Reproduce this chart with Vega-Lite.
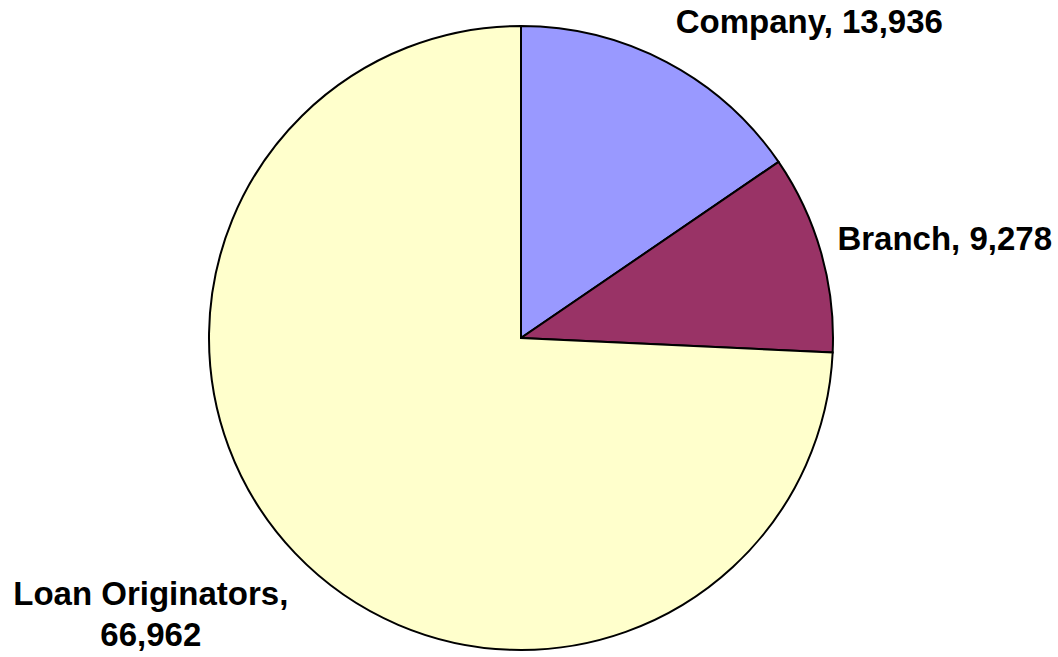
{
  "$schema": "https://vega.github.io/schema/vega-lite/v6.json",
  "width": 1042,
  "height": 638,
  "autosize": "none",
  "padding": {"left": 0, "right": 16, "top": 19, "bottom": 0},
  "background": "white",
  "view": {"stroke": null},
  "data": {
    "values": [
      {"category": "Company", "value": 13936, "rank": 1, "label": "Company, 13,936"},
      {"category": "Branch", "value": 9278, "rank": 2, "label": "Branch, 9,278"},
      {"category": "Loan Originators", "value": 66962, "rank": 3, "label": "Loan Originators,\n66,962"}
    ]
  },
  "encoding": {
    "theta": {"field": "value", "type": "quantitative", "stack": true},
    "order": {"field": "rank", "type": "quantitative", "sort": "ascending"},
    "color": {
      "field": "category",
      "type": "nominal",
      "scale": {"domain": ["Company", "Branch", "Loan Originators"], "range": ["#9999FF", "#993366", "#FFFFCC"]},
      "legend": null
    }
  },
  "layer": [
    {"mark": {"type": "arc", "outerRadius": 312, "stroke": "black", "strokeWidth": 2}},
    {
      "mark": {"type": "text", "radius": 350, "dx": 125, "dy": -5, "font": "Liberation Sans", "fontWeight": "bold", "fontSize": 33, "fill": "black", "align": "center", "baseline": "middle"},
      "encoding": {"text": {"condition": {"test": "datum.category === 'Company'", "field": "label"}, "value": ""}, "color": {"value": "black"}}
    },
    {
      "mark": {"type": "text", "radius": 350, "dx": 87, "dy": -2, "font": "Liberation Sans", "fontWeight": "bold", "fontSize": 33, "fill": "black", "align": "center", "baseline": "middle"},
      "encoding": {"text": {"condition": {"test": "datum.category === 'Branch'", "field": "label"}, "value": ""}, "color": {"value": "black"}}
    },
    {
      "mark": {"type": "text", "radius": 350, "dx": -117, "dy": 15, "font": "Liberation Sans", "fontWeight": "bold", "fontSize": 33, "fill": "black", "align": "center", "baseline": "middle", "lineBreak": "\n", "lineHeight": 41},
      "encoding": {"text": {"condition": {"test": "datum.category === 'Loan Originators'", "field": "label"}, "value": ""}, "color": {"value": "black"}}
    }
  ]
}
